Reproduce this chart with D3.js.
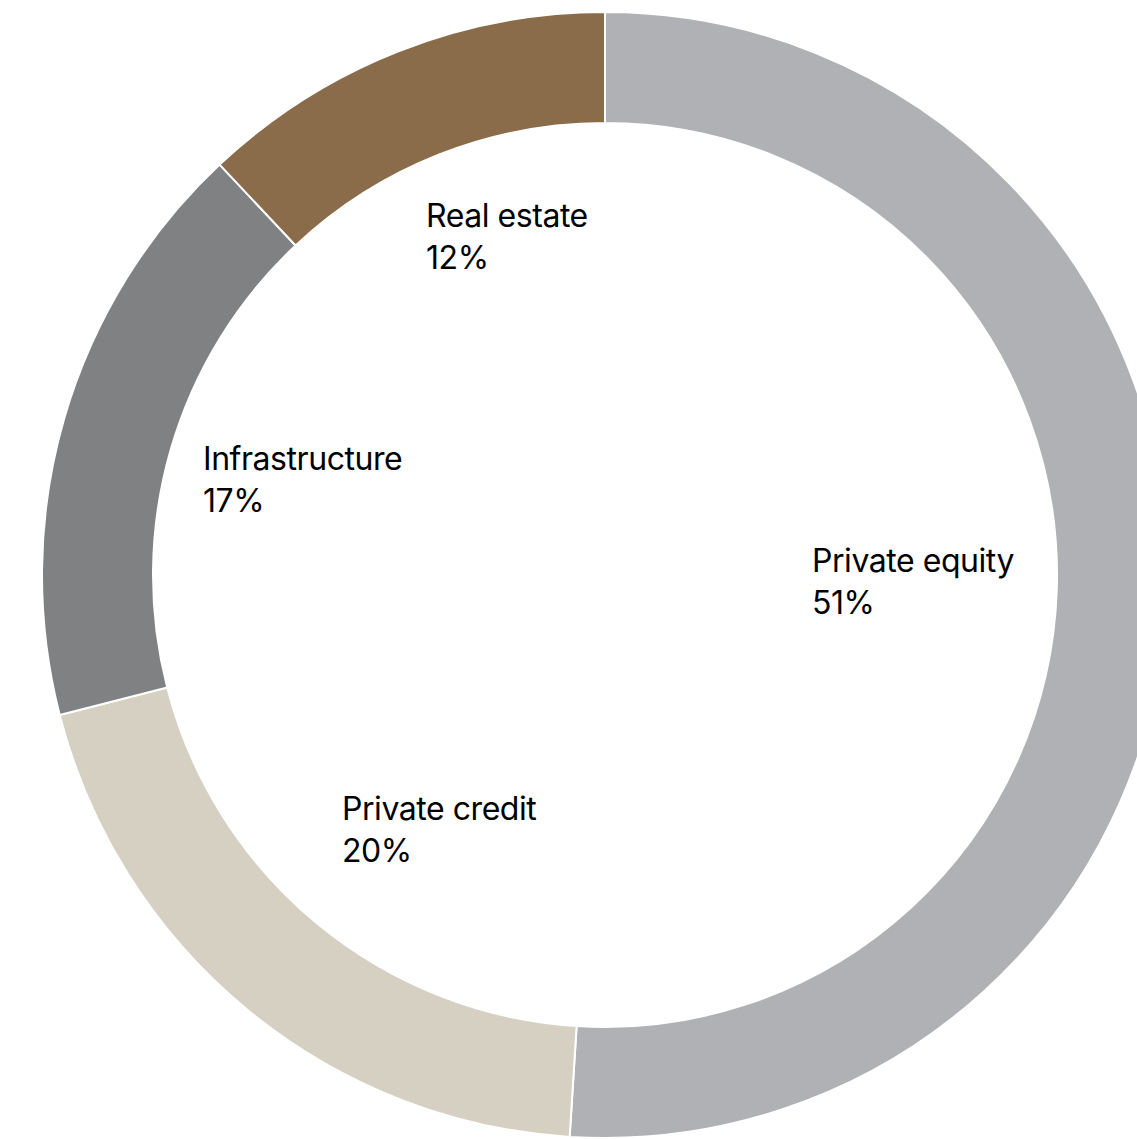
<!DOCTYPE html>
<html>
<head>
<meta charset="utf-8">
<script src="https://cdn.jsdelivr.net/npm/d3@7"></script>
<style>
  html, body { margin: 0; padding: 0; background: #fff; overflow: hidden; }
  svg { display: block; }
  .lbl { font-family: Inter, "Liberation Sans", sans-serif; font-size: 32px; fill: #000; letter-spacing: -0.45px; }
</style>
</head>
<body>
<script>
// Allocation by asset class, drawn clockwise from 12 o'clock
const categories = ["Private equity", "Private credit", "Infrastructure", "Real estate"];
const shares = [51, 20, 17, 12];
const colors = ["#b0b1b4", "#d6d0c2", "#808183", "#8a6b4a"];
const labelAnchors = [[812, 563], [342, 811], [203, 461], [426, 218]];

const width = 1137, height = 1139;
const cx = 605, cy = 575;
const outerR = 563, innerR = 452;

const svg = d3.select("body").append("svg")
  .attr("width", width).attr("height", height);

const data = categories.map((c, i) => ({ name: c, value: shares[i], color: colors[i], anchor: labelAnchors[i] }));

const pie = d3.pie().value(d => d.value).sort(null);
const arc = d3.arc().innerRadius(innerR).outerRadius(outerR);

const g = svg.append("g").attr("transform", `translate(${cx},${cy})`);

g.selectAll("path")
  .data(pie(data))
  .join("path")
  .attr("d", arc)
  .attr("fill", d => d.data.color)
  .attr("stroke", "#fff")
  .attr("stroke-width", 2)
  .attr("stroke-linejoin", "miter");

const labels = svg.selectAll("text.lbl")
  .data(data)
  .join("text")
  .attr("class", "lbl")
  .attr("x", d => d.anchor[0])
  .attr("y", d => d.anchor[1])
  .attr("dominant-baseline", "middle");

labels.append("tspan").attr("x", d => d.anchor[0]).attr("dy", 0).text(d => d.name);
labels.append("tspan").attr("x", d => d.anchor[0]).attr("dy", 42).text(d => d.value + "%");
</script>
</body>
</html>
